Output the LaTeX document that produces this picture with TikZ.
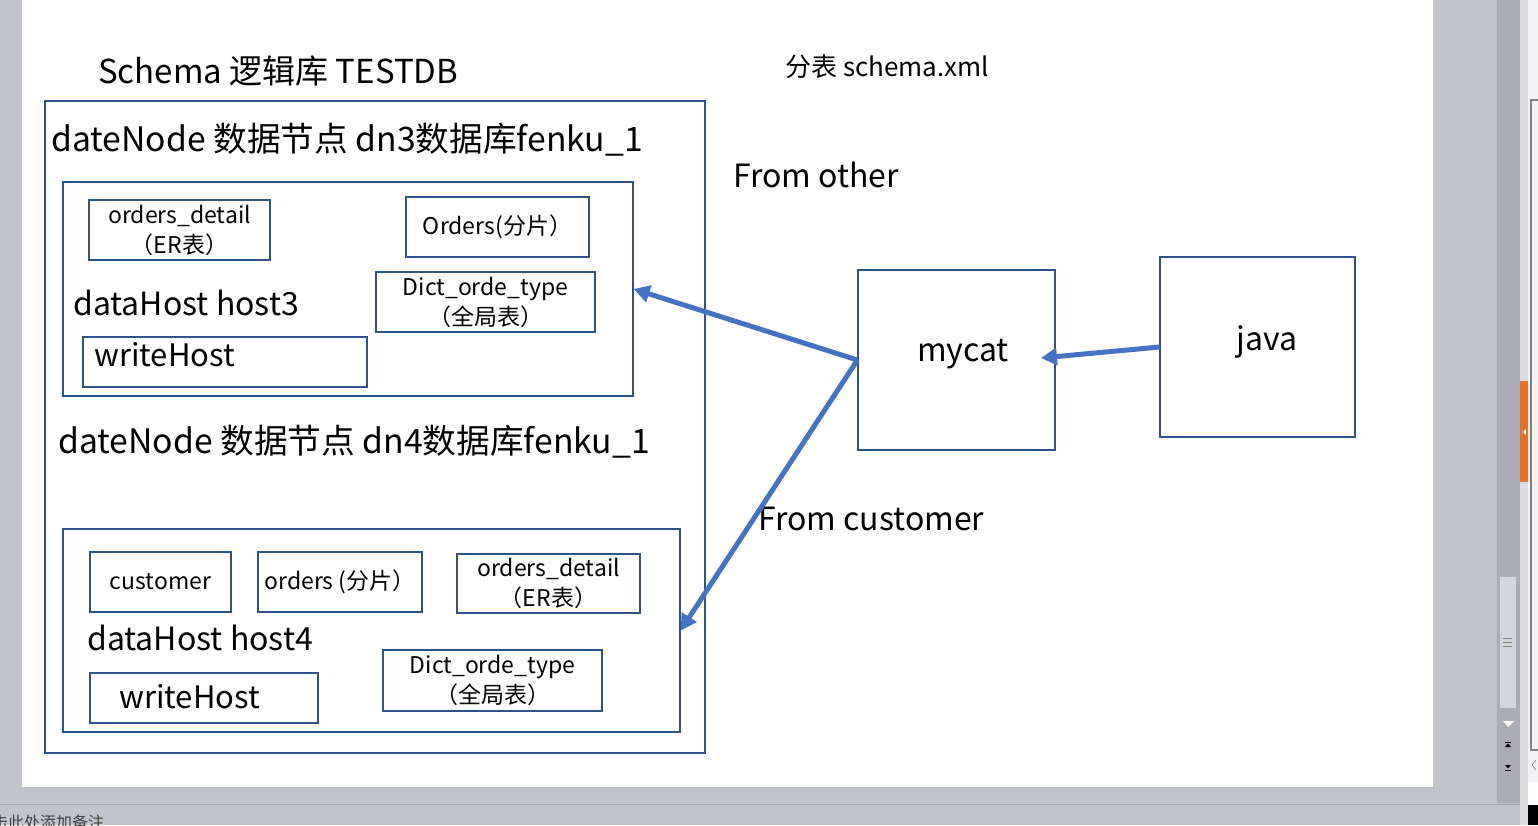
\documentclass[tikz,border=0pt]{standalone}
\usepackage{fontspec}
\setmainfont{Noto Sans CJK SC}
\usetikzlibrary{arrows.meta}
\definecolor{bggray}{HTML}{C0C3CB}
\definecolor{scrollgray}{HTML}{ABADB6}
\definecolor{thumbgray}{HTML}{D5D6DB}
\definecolor{edgegray}{HTML}{DCDDE0}
\definecolor{panelgray}{HTML}{F2F2F2}
\definecolor{boxblue}{HTML}{2F528F}
\definecolor{arrowblue}{HTML}{4472C4}
\definecolor{orangebar}{HTML}{E8702A}
\definecolor{notegray}{HTML}{404040}
\definecolor{linegray}{HTML}{A3A5AC}
\tikzset{
  box/.style={draw=boxblue, line width=1.2pt, rectangle, inner sep=0pt, align=center},
  titletxt/.style={font=\fontsize{33pt}{36pt}\selectfont, inner sep=0pt},
  bigtxt/.style={font=\fontsize{33.7pt}{36pt}\selectfont, inner sep=0pt},
  midtxt/.style={font=\fontsize{32pt}{34pt}\selectfont, inner sep=0pt},
  whtxt/.style={font=\fontsize{31pt}{34pt}\selectfont, inner sep=0pt},
  smalltxt/.style={font=\fontsize{23pt}{30pt}\selectfont},
  arr/.style={draw=arrowblue, line width=5pt, -{Triangle[length=16pt,width=17pt]}},
}
\begin{document}
\begin{tikzpicture}[x=1pt,y=-1pt]
\useasboundingbox (0,0) rectangle (1538,825);
% window background
\fill[bggray] (0,0) rectangle (1538,825);
\fill[white] (22,0) rectangle (1433,787);
\fill[scrollgray] (1497,0) rectangle (1520,803);
\draw[linegray, line width=1pt] (0,804) -- (1520,804);
\fill[edgegray] (1520,0) rectangle (1528,825);
\fill[orangebar] (1520,381) rectangle (1528,482);
\fill[white] (1523,432) -- (1526,429) -- (1526,435) -- cycle;
\fill[thumbgray] (1500,577) rectangle (1516,708);
\draw[gray, line width=0.6pt] (1503,638) -- (1512,638) (1503,642) -- (1512,642) (1503,646) -- (1512,646);
\fill[white] (1503,721) -- (1514,721) -- (1508.5,727) -- cycle;
\fill[black] (1505,747) -- (1511,747) -- (1508,743.5) -- cycle;
\draw[black, line width=0.8pt] (1505,742) -- (1511,742);
\fill[black] (1505,765) -- (1511,765) -- (1508,768.5) -- cycle;
\draw[black, line width=0.8pt] (1505,770) -- (1511,770);
\fill[panelgray] (1528,0) rectangle (1538,805);
\fill[white] (1528,782) rectangle (1538,805);
\fill[black] (1528,805) rectangle (1538,825);
\draw[gray, line width=1.2pt] (1538,100) -- (1531,100) -- (1531,750) -- (1538,750);
\draw[gray, line width=0.6pt] (1536,760) -- (1532,765) -- (1536,770);
\begin{scope}
  \clip (0,787) rectangle (1520,825);
  \node[anchor=west, inner sep=0pt, text=notegray, font=\fontsize{16pt}{16pt}\selectfont] (note) at (-8,822) {击此处添加备注};
\end{scope}

% titles
\node[titletxt, anchor=base west] (title) at (98,83) {Schema 逻辑库 TESTDB};
\node[font=\fontsize{26pt}{28pt}\selectfont, inner sep=0pt, anchor=base west] (xml) at (785,76) {分表 schema.xml};

% outer schema box
\node[box, minimum width=660pt, minimum height=652pt] (outer) at (375,427) {};
\node[bigtxt, anchor=base west] (dn3) at (51,151) {dateNode 数据节点 dn3数据库fenku\_1};
\node[bigtxt, anchor=base west] (dn4) at (58,453) {dateNode 数据节点 dn4数据库fenku\_1};

% inner host3
\node[box, minimum width=570pt, minimum height=214pt] (inner1) at (348,289) {};
\node[box, smalltxt, minimum width=181pt, minimum height=60pt] (od1) at (179.5,230) {orders\_detail\\（ER表）};
\node[box, smalltxt, minimum width=183pt, minimum height=60pt] (ord1) at (497.5,227) {Orders(分片）};
\node[box, smalltxt, minimum width=219pt, minimum height=60pt] (dict1) at (485.5,302) {Dict\_orde\_type\\（全局表）};
\node[midtxt, anchor=base west] (host3) at (73,315) {dataHost host3};
\node[box, minimum width=284pt, minimum height=50pt] (wh1) at (225,362) {};
\node[whtxt, anchor=base west] (wh1t) at (94,366) {writeHost};

% inner host4
\node[box, minimum width=617pt, minimum height=203pt] (inner2) at (371.5,630.5) {};
\node[box, smalltxt, minimum width=141pt, minimum height=60pt] (cust) at (160.5,582) {customer};
\node[box, smalltxt, minimum width=164pt, minimum height=60pt] (ord2) at (340,582) {orders (分片）};
\node[box, smalltxt, minimum width=183pt, minimum height=59pt] (od2) at (548.5,583.5) {orders\_detail\\（ER表）};
\node[midtxt, anchor=base west] (host4) at (87,650) {dataHost host4};
\node[box, minimum width=228pt, minimum height=50pt] (wh2) at (204,698) {};
\node[whtxt, anchor=base west] (wh2t) at (119,708) {writeHost};
\node[box, smalltxt, minimum width=219pt, minimum height=61pt] (dict2) at (492.5,680.5) {Dict\_orde\_type\\（全局表）};

% mycat and java
\node[box, minimum width=197pt, minimum height=180pt] (mycat) at (956.5,360) {};
\node[midtxt] (mycatt) at (963,354) {mycat};
\node[box, minimum width=195pt, minimum height=180pt] (java) at (1257.5,347) {};
\node[midtxt] (javat) at (1267,342) {java};
\node[midtxt, anchor=base west] (fother) at (733,187) {From other};
\node[midtxt, anchor=base west] (fcust) at (758,530) {From customer};

% arrows
\coordinate (jtip) at (1041,358);
\draw[arr] (java.west) -- (jtip);
\draw[arr] (mycat.west) -- (inner1.east);
\draw[arr] (mycat.west) -- (inner2.east);
\end{tikzpicture}
\end{document}
